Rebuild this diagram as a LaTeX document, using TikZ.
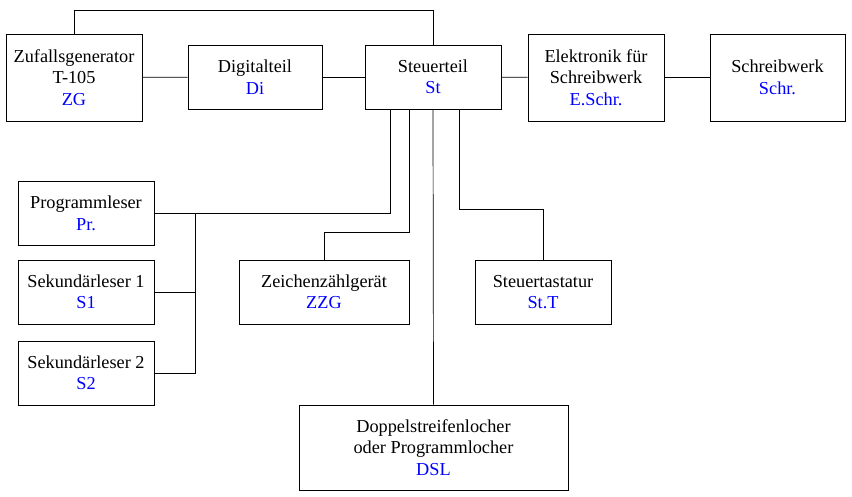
\documentclass[tikz,border=0pt]{standalone}
\usepackage{fontspec}
\setmainfont{Liberation Serif}
\usetikzlibrary{calc}
\begin{document}
\begin{tikzpicture}[x=0.02cm,y=-0.02cm,
  block/.style={draw,rectangle,align=center,inner sep=0pt,font=\fontsize{10.4}{12.2}\selectfont},
  abbr/.style={text=blue}]
\useasboundingbox (0,0) rectangle (852,497);
% upper row
\node[block,minimum width=2.72cm,minimum height=1.74cm] (zg) at (74,77.5) {Zufallsgenerator\\T-105\\\textcolor{blue}{ZG}};
\node[block,minimum width=2.68cm,minimum height=1.28cm] (di) at (255,77) {Digitalteil\\\textcolor{blue}{Di}};
\node[block,minimum width=2.72cm,minimum height=1.28cm] (st) at (433,77) {Steuerteil\\\textcolor{blue}{St}};
\node[block,minimum width=2.72cm,minimum height=1.74cm] (es) at (596,77.5) {Elektronik für\\Schreibwerk\\\textcolor{blue}{E.Schr.}};
\node[block,minimum width=2.70cm,minimum height=1.74cm] (sw) at (777.5,77.5) {Schreibwerk\\\textcolor{blue}{Schr.}};
% readers
\node[block,minimum width=2.72cm,minimum height=1.28cm] (pr) at (86,213.5) {Programmleser\\\textcolor{blue}{Pr.}};
\node[block,minimum width=2.72cm,minimum height=1.28cm] (s1) at (86,292) {Sekundärleser 1\\\textcolor{blue}{S1}};
\node[block,minimum width=2.72cm,minimum height=1.28cm] (s2) at (86,373) {Sekundärleser 2\\\textcolor{blue}{S2}};
% lower row
\node[block,minimum width=3.40cm,minimum height=1.28cm] (zzg) at (324,292) {Zeichenzählgerät\\\textcolor{blue}{ZZG}};
\node[block,minimum width=2.72cm,minimum height=1.28cm] (stt) at (543,292) {Steuertastatur\\\textcolor{blue}{St.T}};
\node[block,minimum width=5.38cm,minimum height=1.70cm] (dsl) at (433.5,447.5) {Doppelstreifenlocher\\oder Programmlocher\\\textcolor{blue}{DSL}};

\coordinate (bus) at (195,0);
\draw (zg.north) |- (433,10) -- (st.north);
\draw (zg) -- (di);
\draw (di) -- (st);
\draw (st) -- (es);
\draw (es) -- (sw);
\draw (st.south -| 390,0) |- (pr.east);
\draw (st.south -| 409,0) |- (324,232) -- (zzg.north);
\draw (st.south) -- (dsl.north);
\draw (st.south -| 459,0) |- (543,209) -- (stt.north);
\draw (bus |- pr.east) -- (bus |- s2.east) -- (s2.east);
\draw (s1.east) -- (bus |- s1.east);
\end{tikzpicture}
\end{document}
